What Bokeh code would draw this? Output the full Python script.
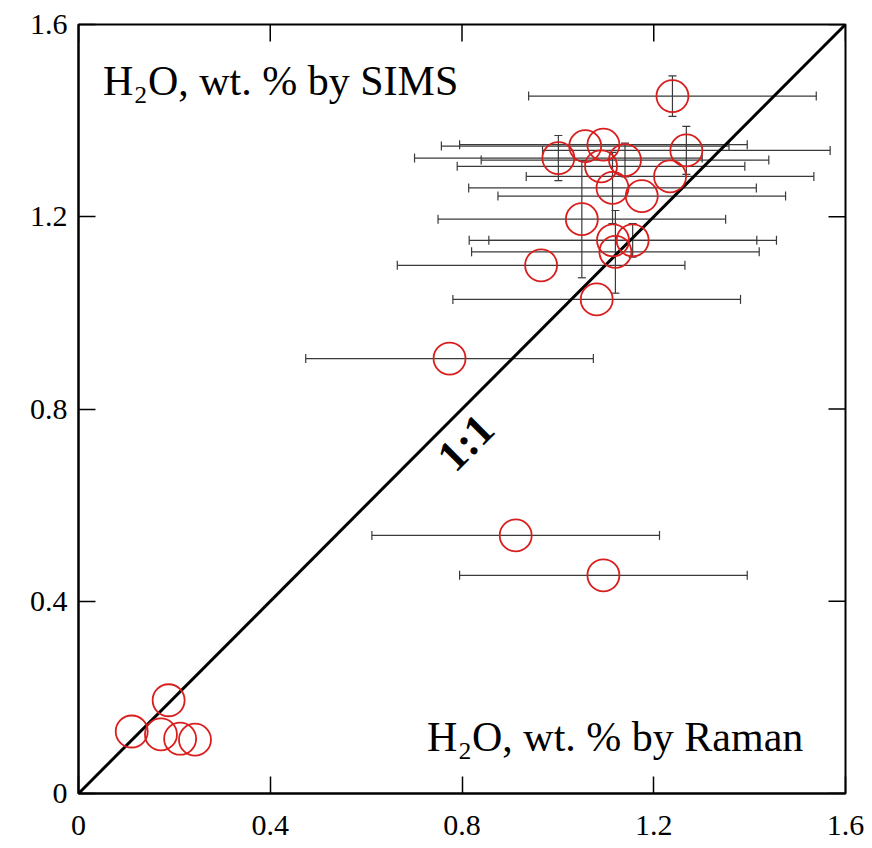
import numpy as np
from bokeh.plotting import figure
from bokeh.models import Range1d, LinearAxis, FixedTicker, Whisker, TeeHead, ColumnDataSource, Label
from bokeh.embed import file_html
from bokeh.resources import INLINE

# H2O wt.% by Raman (x) and by SIMS (y), with uncertainties
raman = [1.239, 1.268, 1.001, 1.057, 1.095, 1.090, 1.140, 1.234, 1.114, 1.175, 1.050, 1.115,
         1.156, 1.120, 0.965, 1.081, 0.774, 0.912, 1.095,
         0.188, 0.111, 0.172, 0.212, 0.243]
sims = [1.451, 1.338, 1.322, 1.347, 1.350, 1.305, 1.318, 1.284, 1.260, 1.243, 1.195, 1.151,
        1.151, 1.127, 1.099, 1.028, 0.905, 0.537, 0.454,
        0.194, 0.129, 0.123, 0.114, 0.112]
raman_err = [0.30, 0.30, 0.30, 0.30, 0.30, 0.30, 0.30, 0.30, 0.30, 0.30, 0.30, 0.30,
             0.30, 0.30, 0.30, 0.30, 0.30, 0.30, 0.30,
             0.0, 0.0, 0.0, 0.0, 0.0]
sims_err = [0.042, 0.050, 0.047, 0.0, 0.0, 0.0, 0.035, 0.0, 0.074, 0.0, 0.122, 0.0,
            0.035, 0.086, 0.0, 0.0, 0.0, 0.0, 0.0,
            0.0, 0.0, 0.0, 0.0, 0.0]
one_to_one = [0.0, 1.6]
ticks = [0, 0.4, 0.8, 1.2, 1.6]
tick_labels = ["0", "0.4", "0.8", "1.2", "1.6"]

FONT = "Liberation Serif"
W, H = 872, 848
BL, BR, BT, BB = 78, 27, 24, 55
XMAX = YMAX = 1.6
TICK_PX = 17

p = figure(width=W, height=H, output_backend="svg", toolbar_location=None,
           x_range=Range1d(0, XMAX), y_range=Range1d(0, YMAX),
           min_border_left=BL, min_border_right=BR, min_border_top=BT, min_border_bottom=BB,
           x_axis_location=None, y_axis_location=None)
p.grid.visible = False
p.outline_line_color = "black"
p.outline_line_width = 2
p.background_fill_color = "white"
p.border_fill_color = "white"

overrides = {t: l for t, l in zip(ticks, tick_labels)}

def style_axis(ax, standoff):
    ax.ticker = FixedTicker(ticks=ticks)
    ax.major_label_overrides = overrides
    ax.axis_line_color = "black"
    ax.axis_line_width = 2
    ax.major_tick_in = TICK_PX
    ax.major_tick_out = 0
    ax.minor_tick_in = 0
    ax.minor_tick_out = 0
    ax.major_tick_line_width = 1.5
    ax.major_tick_line_color = "black"
    ax.major_label_text_font = FONT
    ax.major_label_text_color = "black"
    ax.major_label_text_font_size = "30px"
    ax.major_label_standoff = standoff

bx = LinearAxis(); style_axis(bx, 22)
lx = LinearAxis(); style_axis(lx, 11)
p.add_layout(bx, "below")
p.add_layout(lx, "left")

# mirrored inward ticks on top and right frame edges
fw = W - BL - BR
fh = H - BT - BB
ty = TICK_PX * YMAX / fh
tx = TICK_PX * XMAX / fw
p.segment(x0=ticks, y0=[YMAX] * len(ticks), x1=ticks, y1=[YMAX - ty] * len(ticks),
          line_color="black", line_width=1.5)
p.segment(x0=[XMAX] * len(ticks), y0=ticks, x1=[XMAX - tx] * len(ticks), y1=ticks,
          line_color="black", line_width=1.5)

# 1:1 line
p.line(one_to_one, one_to_one, line_color="black", line_width=3)

# horizontal error bars
xe = [(x, y, e) for x, y, e in zip(raman, sims, raman_err) if e > 0]
hsrc = ColumnDataSource(dict(base=[v[1] for v in xe],
                             lower=[v[0] - v[2] for v in xe],
                             upper=[v[0] + v[2] for v in xe]))
p.add_layout(Whisker(source=hsrc, base="base", lower="lower", upper="upper", dimension="width",
                     line_color="#3a3a3a", line_width=1.2,
                     upper_head=TeeHead(size=9, line_color="#3a3a3a", line_width=1.2),
                     lower_head=TeeHead(size=9, line_color="#3a3a3a", line_width=1.2)))

# vertical error bars
ye = [(x, y, e) for x, y, e in zip(raman, sims, sims_err) if e > 0]
vsrc = ColumnDataSource(dict(base=[v[0] for v in ye],
                             lower=[v[1] - v[2] for v in ye],
                             upper=[v[1] + v[2] for v in ye]))
p.add_layout(Whisker(source=vsrc, base="base", lower="lower", upper="upper", dimension="height",
                     line_color="#3a3a3a", line_width=1.2,
                     upper_head=TeeHead(size=8, line_color="#3a3a3a", line_width=1.2),
                     lower_head=TeeHead(size=8, line_color="#3a3a3a", line_width=1.2)))

# data points
p.scatter(raman, sims, marker="circle", size=32, fill_color=None,
          line_color="#d91e1e", line_width=1.8)

# texts
p.add_layout(Label(x=0.051, y=1.483, text="H\u2082O, wt. % by SIMS", text_font=FONT,
                   text_font_size="42px", text_color="black", text_baseline="alphabetic"))
p.add_layout(Label(x=1.512, y=0.117, text="H\u2082O, wt. % by Raman", text_font=FONT,
                   text_font_size="42px", text_color="black", text_baseline="alphabetic",
                   text_align="right"))
p.add_layout(Label(x=0.808, y=0.730, text="1:1", text_font=FONT, text_font_style="bold",
                   text_font_size="44px", text_color="black", angle=np.pi / 4,
                   text_align="center", text_baseline="middle"))

open("out.html", "w").write(file_html(p, INLINE))
